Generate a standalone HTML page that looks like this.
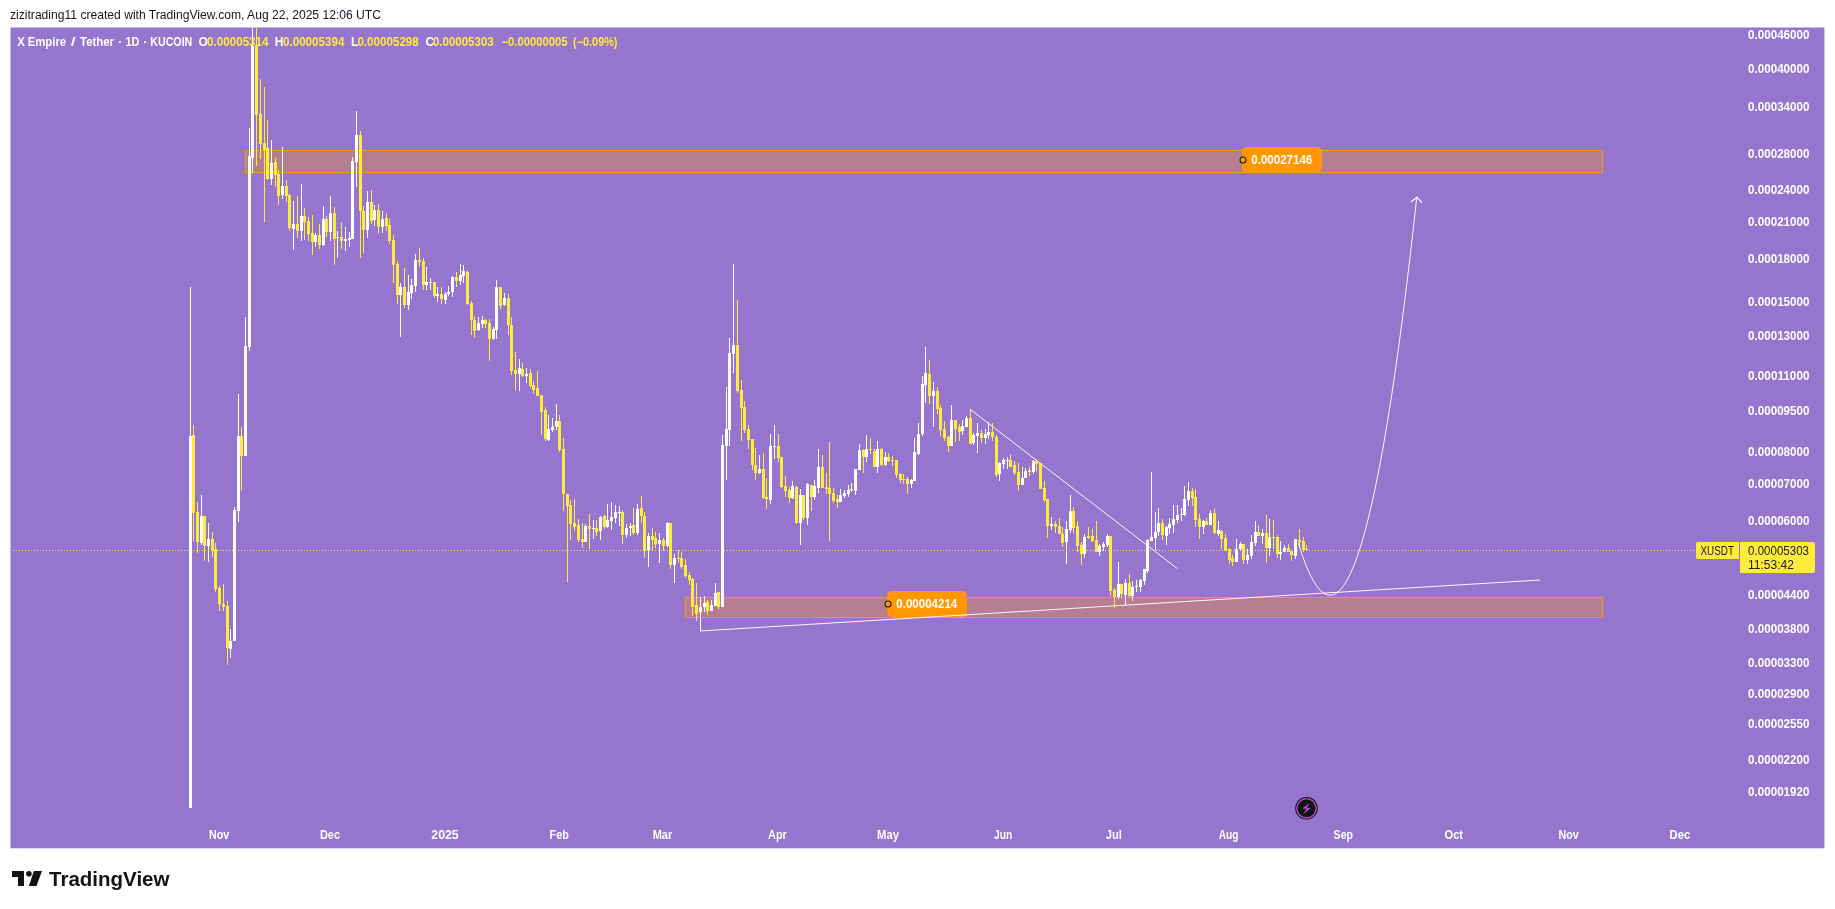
<!DOCTYPE html>
<html><head><meta charset="utf-8"><title>X Empire / Tether chart</title>
<style>html,body{margin:0;padding:0;background:#fff;}body{width:1835px;height:909px;overflow:hidden;font-family:"Liberation Sans",sans-serif;}svg{display:block;will-change:transform;}text{font-family:"Liberation Sans",sans-serif;}</style>
</head><body>
<svg width="1835" height="909" viewBox="0 0 1835 909">
<rect x="0" y="0" width="1835" height="909" fill="#ffffff"/>
<rect x="10.5" y="27.5" width="1813.9" height="820.8" fill="#9575cd"/>
<clipPath id="cp"><rect x="10.5" y="27.5" width="1813.9" height="820.8"/></clipPath>
<g clip-path="url(#cp)">
<rect x="245.5" y="150.5" width="1357" height="22" fill="rgba(255,152,0,0.30)" stroke="#ff9800" stroke-width="1" shape-rendering="crispEdges"/>
<rect x="685.5" y="597.5" width="917" height="20" fill="rgba(255,152,0,0.30)" stroke="#ff9800" stroke-width="1" shape-rendering="crispEdges"/>
<g stroke="#ffffff" stroke-width="1" fill="none" stroke-opacity="0.95">
<line x1="700" y1="631" x2="1540" y2="580"/>
<line x1="969.7" y1="409" x2="1177.5" y2="568.7"/>
</g>
<g shape-rendering="crispEdges">
<rect x="190" y="287" width="1" height="521" fill="#ffffff"/>
<rect x="189" y="436" width="3" height="372" fill="#ffffff"/>
<rect x="193" y="425" width="1" height="116" fill="#ffeb3b"/>
<rect x="192" y="435" width="3" height="78" fill="#ffeb3b"/>
<rect x="197" y="502" width="1" height="51" fill="#ffeb3b"/>
<rect x="196" y="512" width="3" height="30" fill="#ffeb3b"/>
<rect x="201" y="495" width="1" height="50" fill="#ffffff"/>
<rect x="200" y="516" width="3" height="27" fill="#ffffff"/>
<rect x="204" y="516" width="1" height="45" fill="#ffeb3b"/>
<rect x="203" y="516" width="3" height="30" fill="#ffeb3b"/>
<rect x="208" y="523" width="1" height="39" fill="#ffffff"/>
<rect x="207" y="539" width="3" height="7" fill="#ffffff"/>
<rect x="212" y="532" width="1" height="25" fill="#ffeb3b"/>
<rect x="211" y="539" width="3" height="12" fill="#ffeb3b"/>
<rect x="215" y="543" width="1" height="49" fill="#ffeb3b"/>
<rect x="214" y="549" width="3" height="40" fill="#ffeb3b"/>
<rect x="219" y="586" width="1" height="25" fill="#ffeb3b"/>
<rect x="218" y="588" width="3" height="16" fill="#ffeb3b"/>
<rect x="223" y="584" width="1" height="27" fill="#ffeb3b"/>
<rect x="222" y="604" width="3" height="3" fill="#ffeb3b"/>
<rect x="227" y="601" width="1" height="64" fill="#ffeb3b"/>
<rect x="226" y="606" width="3" height="42" fill="#ffeb3b"/>
<rect x="230" y="629" width="1" height="29" fill="#ffffff"/>
<rect x="229" y="641" width="3" height="8" fill="#ffffff"/>
<rect x="234" y="507" width="1" height="134" fill="#ffffff"/>
<rect x="233" y="510" width="3" height="131" fill="#ffffff"/>
<rect x="238" y="394" width="1" height="128" fill="#ffffff"/>
<rect x="237" y="436" width="3" height="75" fill="#ffffff"/>
<rect x="241" y="427" width="1" height="64" fill="#ffeb3b"/>
<rect x="240" y="436" width="3" height="20" fill="#ffeb3b"/>
<rect x="245" y="317" width="1" height="139" fill="#ffffff"/>
<rect x="244" y="346" width="3" height="110" fill="#ffffff"/>
<rect x="249" y="128" width="1" height="223" fill="#ffffff"/>
<rect x="248" y="156" width="3" height="191" fill="#ffffff"/>
<rect x="252" y="20" width="1" height="153" fill="#ffffff"/>
<rect x="251" y="46" width="3" height="112" fill="#ffffff"/>
<rect x="256" y="20" width="1" height="146" fill="#ffeb3b"/>
<rect x="255" y="45" width="3" height="70" fill="#ffeb3b"/>
<rect x="260" y="79" width="1" height="80" fill="#ffeb3b"/>
<rect x="259" y="114" width="3" height="30" fill="#ffeb3b"/>
<rect x="264" y="87" width="1" height="135" fill="#ffeb3b"/>
<rect x="263" y="143" width="3" height="7" fill="#ffeb3b"/>
<rect x="267" y="120" width="1" height="60" fill="#ffeb3b"/>
<rect x="266" y="148" width="3" height="31" fill="#ffeb3b"/>
<rect x="271" y="140" width="1" height="45" fill="#ffffff"/>
<rect x="270" y="163" width="3" height="16" fill="#ffffff"/>
<rect x="275" y="158" width="1" height="29" fill="#ffeb3b"/>
<rect x="274" y="162" width="3" height="13" fill="#ffeb3b"/>
<rect x="278" y="170" width="1" height="35" fill="#ffeb3b"/>
<rect x="277" y="174" width="3" height="22" fill="#ffeb3b"/>
<rect x="282" y="147" width="1" height="52" fill="#ffffff"/>
<rect x="281" y="186" width="3" height="9" fill="#ffffff"/>
<rect x="286" y="180" width="1" height="22" fill="#ffeb3b"/>
<rect x="285" y="186" width="3" height="10" fill="#ffeb3b"/>
<rect x="289" y="194" width="1" height="37" fill="#ffeb3b"/>
<rect x="288" y="195" width="3" height="33" fill="#ffeb3b"/>
<rect x="293" y="201" width="1" height="49" fill="#ffffff"/>
<rect x="292" y="224" width="3" height="5" fill="#ffffff"/>
<rect x="297" y="196" width="1" height="42" fill="#ffeb3b"/>
<rect x="296" y="224" width="3" height="7" fill="#ffeb3b"/>
<rect x="301" y="184" width="1" height="57" fill="#ffffff"/>
<rect x="300" y="216" width="3" height="15" fill="#ffffff"/>
<rect x="304" y="208" width="1" height="32" fill="#ffeb3b"/>
<rect x="303" y="216" width="3" height="6" fill="#ffeb3b"/>
<rect x="308" y="217" width="1" height="24" fill="#ffeb3b"/>
<rect x="307" y="221" width="3" height="13" fill="#ffeb3b"/>
<rect x="312" y="215" width="1" height="40" fill="#ffeb3b"/>
<rect x="311" y="233" width="3" height="9" fill="#ffeb3b"/>
<rect x="315" y="233" width="1" height="14" fill="#ffffff"/>
<rect x="314" y="235" width="3" height="7" fill="#ffffff"/>
<rect x="319" y="224" width="1" height="25" fill="#ffeb3b"/>
<rect x="318" y="235" width="3" height="10" fill="#ffeb3b"/>
<rect x="323" y="206" width="1" height="40" fill="#ffffff"/>
<rect x="322" y="219" width="3" height="26" fill="#ffffff"/>
<rect x="326" y="216" width="1" height="21" fill="#ffeb3b"/>
<rect x="325" y="219" width="3" height="13" fill="#ffeb3b"/>
<rect x="330" y="196" width="1" height="45" fill="#ffffff"/>
<rect x="329" y="213" width="3" height="19" fill="#ffffff"/>
<rect x="334" y="207" width="1" height="58" fill="#ffeb3b"/>
<rect x="333" y="213" width="3" height="26" fill="#ffeb3b"/>
<rect x="337" y="231" width="1" height="27" fill="#ffffff"/>
<rect x="336" y="237" width="3" height="1" fill="#ffffff"/>
<rect x="341" y="222" width="1" height="27" fill="#ffeb3b"/>
<rect x="340" y="237" width="3" height="4" fill="#ffeb3b"/>
<rect x="345" y="227" width="1" height="24" fill="#ffffff"/>
<rect x="344" y="239" width="3" height="2" fill="#ffffff"/>
<rect x="349" y="232" width="1" height="15" fill="#ffffff"/>
<rect x="348" y="238" width="3" height="2" fill="#ffffff"/>
<rect x="352" y="157" width="1" height="82" fill="#ffffff"/>
<rect x="351" y="161" width="3" height="78" fill="#ffffff"/>
<rect x="356" y="111" width="1" height="76" fill="#ffffff"/>
<rect x="355" y="135" width="3" height="27" fill="#ffffff"/>
<rect x="360" y="131" width="1" height="127" fill="#ffeb3b"/>
<rect x="359" y="135" width="3" height="76" fill="#ffeb3b"/>
<rect x="363" y="206" width="1" height="47" fill="#ffeb3b"/>
<rect x="362" y="211" width="3" height="19" fill="#ffeb3b"/>
<rect x="367" y="191" width="1" height="47" fill="#ffffff"/>
<rect x="366" y="202" width="3" height="28" fill="#ffffff"/>
<rect x="371" y="190" width="1" height="34" fill="#ffeb3b"/>
<rect x="370" y="202" width="3" height="19" fill="#ffeb3b"/>
<rect x="374" y="205" width="1" height="21" fill="#ffffff"/>
<rect x="373" y="210" width="3" height="10" fill="#ffffff"/>
<rect x="378" y="204" width="1" height="30" fill="#ffeb3b"/>
<rect x="377" y="210" width="3" height="17" fill="#ffeb3b"/>
<rect x="382" y="211" width="1" height="22" fill="#ffffff"/>
<rect x="381" y="219" width="3" height="8" fill="#ffffff"/>
<rect x="386" y="213" width="1" height="18" fill="#ffeb3b"/>
<rect x="385" y="218" width="3" height="8" fill="#ffeb3b"/>
<rect x="389" y="219" width="1" height="25" fill="#ffeb3b"/>
<rect x="388" y="225" width="3" height="16" fill="#ffeb3b"/>
<rect x="393" y="235" width="1" height="48" fill="#ffeb3b"/>
<rect x="392" y="240" width="3" height="25" fill="#ffeb3b"/>
<rect x="397" y="261" width="1" height="43" fill="#ffeb3b"/>
<rect x="396" y="264" width="3" height="31" fill="#ffeb3b"/>
<rect x="400" y="283" width="1" height="54" fill="#ffffff"/>
<rect x="399" y="287" width="3" height="8" fill="#ffffff"/>
<rect x="404" y="268" width="1" height="40" fill="#ffeb3b"/>
<rect x="403" y="287" width="3" height="18" fill="#ffeb3b"/>
<rect x="408" y="275" width="1" height="35" fill="#ffffff"/>
<rect x="407" y="292" width="3" height="13" fill="#ffffff"/>
<rect x="411" y="279" width="1" height="20" fill="#ffffff"/>
<rect x="410" y="285" width="3" height="8" fill="#ffffff"/>
<rect x="415" y="254" width="1" height="38" fill="#ffffff"/>
<rect x="414" y="260" width="3" height="26" fill="#ffffff"/>
<rect x="419" y="248" width="1" height="19" fill="#ffeb3b"/>
<rect x="418" y="260" width="3" height="2" fill="#ffeb3b"/>
<rect x="423" y="258" width="1" height="32" fill="#ffeb3b"/>
<rect x="422" y="261" width="3" height="24" fill="#ffeb3b"/>
<rect x="426" y="267" width="1" height="23" fill="#ffffff"/>
<rect x="425" y="282" width="3" height="3" fill="#ffffff"/>
<rect x="430" y="278" width="1" height="12" fill="#ffffff"/>
<rect x="429" y="282" width="3" height="1" fill="#ffffff"/>
<rect x="434" y="282" width="1" height="16" fill="#ffeb3b"/>
<rect x="433" y="282" width="3" height="14" fill="#ffeb3b"/>
<rect x="437" y="287" width="1" height="15" fill="#ffffff"/>
<rect x="436" y="294" width="3" height="2" fill="#ffffff"/>
<rect x="441" y="287" width="1" height="17" fill="#ffeb3b"/>
<rect x="440" y="294" width="3" height="5" fill="#ffeb3b"/>
<rect x="445" y="292" width="1" height="12" fill="#ffffff"/>
<rect x="444" y="294" width="3" height="6" fill="#ffffff"/>
<rect x="448" y="286" width="1" height="10" fill="#ffffff"/>
<rect x="447" y="292" width="3" height="2" fill="#ffffff"/>
<rect x="452" y="276" width="1" height="21" fill="#ffffff"/>
<rect x="451" y="277" width="3" height="15" fill="#ffffff"/>
<rect x="456" y="272" width="1" height="15" fill="#ffeb3b"/>
<rect x="455" y="277" width="3" height="4" fill="#ffeb3b"/>
<rect x="460" y="264" width="1" height="21" fill="#ffffff"/>
<rect x="459" y="275" width="3" height="6" fill="#ffffff"/>
<rect x="463" y="265" width="1" height="18" fill="#ffffff"/>
<rect x="462" y="271" width="3" height="5" fill="#ffffff"/>
<rect x="467" y="270" width="1" height="35" fill="#ffeb3b"/>
<rect x="466" y="272" width="3" height="32" fill="#ffeb3b"/>
<rect x="471" y="301" width="1" height="34" fill="#ffeb3b"/>
<rect x="470" y="303" width="3" height="17" fill="#ffeb3b"/>
<rect x="474" y="316" width="1" height="22" fill="#ffeb3b"/>
<rect x="473" y="320" width="3" height="11" fill="#ffeb3b"/>
<rect x="478" y="317" width="1" height="14" fill="#ffffff"/>
<rect x="477" y="323" width="3" height="7" fill="#ffffff"/>
<rect x="482" y="316" width="1" height="12" fill="#ffffff"/>
<rect x="481" y="320" width="3" height="4" fill="#ffffff"/>
<rect x="485" y="319" width="1" height="9" fill="#ffeb3b"/>
<rect x="484" y="320" width="3" height="4" fill="#ffeb3b"/>
<rect x="489" y="319" width="1" height="42" fill="#ffeb3b"/>
<rect x="488" y="323" width="3" height="16" fill="#ffeb3b"/>
<rect x="493" y="327" width="1" height="13" fill="#ffffff"/>
<rect x="492" y="329" width="3" height="10" fill="#ffffff"/>
<rect x="496" y="280" width="1" height="59" fill="#ffffff"/>
<rect x="495" y="287" width="3" height="43" fill="#ffffff"/>
<rect x="500" y="287" width="1" height="22" fill="#ffeb3b"/>
<rect x="499" y="287" width="3" height="19" fill="#ffeb3b"/>
<rect x="504" y="293" width="1" height="13" fill="#ffffff"/>
<rect x="503" y="298" width="3" height="7" fill="#ffffff"/>
<rect x="508" y="294" width="1" height="41" fill="#ffeb3b"/>
<rect x="507" y="298" width="3" height="27" fill="#ffeb3b"/>
<rect x="511" y="317" width="1" height="58" fill="#ffeb3b"/>
<rect x="510" y="325" width="3" height="46" fill="#ffeb3b"/>
<rect x="515" y="352" width="1" height="38" fill="#ffeb3b"/>
<rect x="514" y="370" width="3" height="4" fill="#ffeb3b"/>
<rect x="519" y="359" width="1" height="32" fill="#ffffff"/>
<rect x="518" y="368" width="3" height="6" fill="#ffffff"/>
<rect x="522" y="363" width="1" height="14" fill="#ffeb3b"/>
<rect x="521" y="369" width="3" height="7" fill="#ffeb3b"/>
<rect x="526" y="368" width="1" height="15" fill="#ffffff"/>
<rect x="525" y="374" width="3" height="2" fill="#ffffff"/>
<rect x="530" y="369" width="1" height="19" fill="#ffeb3b"/>
<rect x="529" y="373" width="3" height="13" fill="#ffeb3b"/>
<rect x="533" y="381" width="1" height="13" fill="#ffeb3b"/>
<rect x="532" y="385" width="3" height="5" fill="#ffeb3b"/>
<rect x="537" y="371" width="1" height="25" fill="#ffeb3b"/>
<rect x="536" y="388" width="3" height="8" fill="#ffeb3b"/>
<rect x="541" y="395" width="1" height="40" fill="#ffeb3b"/>
<rect x="540" y="395" width="3" height="17" fill="#ffeb3b"/>
<rect x="545" y="407" width="1" height="34" fill="#ffeb3b"/>
<rect x="544" y="410" width="3" height="29" fill="#ffeb3b"/>
<rect x="548" y="415" width="1" height="26" fill="#ffffff"/>
<rect x="547" y="429" width="3" height="11" fill="#ffffff"/>
<rect x="552" y="418" width="1" height="14" fill="#ffffff"/>
<rect x="551" y="427" width="3" height="3" fill="#ffffff"/>
<rect x="556" y="404" width="1" height="26" fill="#ffffff"/>
<rect x="555" y="421" width="3" height="6" fill="#ffffff"/>
<rect x="559" y="415" width="1" height="37" fill="#ffeb3b"/>
<rect x="558" y="421" width="3" height="29" fill="#ffeb3b"/>
<rect x="563" y="438" width="1" height="73" fill="#ffeb3b"/>
<rect x="562" y="449" width="3" height="45" fill="#ffeb3b"/>
<rect x="567" y="494" width="1" height="88" fill="#ffeb3b"/>
<rect x="566" y="494" width="3" height="12" fill="#ffeb3b"/>
<rect x="570" y="500" width="1" height="40" fill="#ffeb3b"/>
<rect x="569" y="505" width="3" height="19" fill="#ffeb3b"/>
<rect x="574" y="499" width="1" height="32" fill="#ffeb3b"/>
<rect x="573" y="523" width="3" height="4" fill="#ffeb3b"/>
<rect x="578" y="519" width="1" height="23" fill="#ffeb3b"/>
<rect x="577" y="525" width="3" height="15" fill="#ffeb3b"/>
<rect x="582" y="523" width="1" height="25" fill="#ffeb3b"/>
<rect x="581" y="539" width="3" height="3" fill="#ffeb3b"/>
<rect x="585" y="524" width="1" height="18" fill="#ffffff"/>
<rect x="584" y="526" width="3" height="16" fill="#ffffff"/>
<rect x="589" y="514" width="1" height="35" fill="#ffeb3b"/>
<rect x="588" y="526" width="3" height="3" fill="#ffeb3b"/>
<rect x="593" y="520" width="1" height="19" fill="#ffffff"/>
<rect x="592" y="528" width="3" height="1" fill="#ffffff"/>
<rect x="596" y="520" width="1" height="16" fill="#ffeb3b"/>
<rect x="595" y="528" width="3" height="4" fill="#ffeb3b"/>
<rect x="600" y="516" width="1" height="24" fill="#ffffff"/>
<rect x="599" y="517" width="3" height="14" fill="#ffffff"/>
<rect x="604" y="515" width="1" height="14" fill="#ffeb3b"/>
<rect x="603" y="516" width="3" height="11" fill="#ffeb3b"/>
<rect x="607" y="504" width="1" height="24" fill="#ffffff"/>
<rect x="606" y="520" width="3" height="7" fill="#ffffff"/>
<rect x="611" y="502" width="1" height="28" fill="#ffffff"/>
<rect x="610" y="517" width="3" height="4" fill="#ffffff"/>
<rect x="615" y="505" width="1" height="18" fill="#ffffff"/>
<rect x="614" y="512" width="3" height="6" fill="#ffffff"/>
<rect x="619" y="506" width="1" height="20" fill="#ffffff"/>
<rect x="618" y="512" width="3" height="1" fill="#ffffff"/>
<rect x="622" y="510" width="1" height="34" fill="#ffeb3b"/>
<rect x="621" y="512" width="3" height="23" fill="#ffeb3b"/>
<rect x="626" y="524" width="1" height="14" fill="#ffffff"/>
<rect x="625" y="528" width="3" height="7" fill="#ffffff"/>
<rect x="630" y="523" width="1" height="13" fill="#ffffff"/>
<rect x="629" y="526" width="3" height="2" fill="#ffffff"/>
<rect x="633" y="508" width="1" height="27" fill="#ffeb3b"/>
<rect x="632" y="525" width="3" height="8" fill="#ffeb3b"/>
<rect x="637" y="504" width="1" height="31" fill="#ffffff"/>
<rect x="636" y="509" width="3" height="24" fill="#ffffff"/>
<rect x="641" y="496" width="1" height="27" fill="#ffeb3b"/>
<rect x="640" y="508" width="3" height="8" fill="#ffeb3b"/>
<rect x="644" y="512" width="1" height="46" fill="#ffeb3b"/>
<rect x="643" y="516" width="3" height="35" fill="#ffeb3b"/>
<rect x="648" y="533" width="1" height="34" fill="#ffffff"/>
<rect x="647" y="536" width="3" height="14" fill="#ffffff"/>
<rect x="652" y="528" width="1" height="23" fill="#ffeb3b"/>
<rect x="651" y="536" width="3" height="4" fill="#ffeb3b"/>
<rect x="655" y="532" width="1" height="16" fill="#ffeb3b"/>
<rect x="654" y="538" width="3" height="6" fill="#ffeb3b"/>
<rect x="659" y="533" width="1" height="30" fill="#ffffff"/>
<rect x="658" y="540" width="3" height="4" fill="#ffffff"/>
<rect x="663" y="538" width="1" height="13" fill="#ffeb3b"/>
<rect x="662" y="540" width="3" height="6" fill="#ffeb3b"/>
<rect x="667" y="522" width="1" height="25" fill="#ffffff"/>
<rect x="666" y="523" width="3" height="23" fill="#ffffff"/>
<rect x="670" y="523" width="1" height="46" fill="#ffeb3b"/>
<rect x="669" y="523" width="3" height="42" fill="#ffeb3b"/>
<rect x="674" y="554" width="1" height="29" fill="#ffffff"/>
<rect x="673" y="558" width="3" height="7" fill="#ffffff"/>
<rect x="678" y="550" width="1" height="13" fill="#ffeb3b"/>
<rect x="677" y="558" width="3" height="1" fill="#ffeb3b"/>
<rect x="681" y="552" width="1" height="17" fill="#ffeb3b"/>
<rect x="680" y="558" width="3" height="9" fill="#ffeb3b"/>
<rect x="685" y="559" width="1" height="19" fill="#ffeb3b"/>
<rect x="684" y="565" width="3" height="11" fill="#ffeb3b"/>
<rect x="689" y="572" width="1" height="13" fill="#ffeb3b"/>
<rect x="688" y="575" width="3" height="5" fill="#ffeb3b"/>
<rect x="692" y="578" width="1" height="38" fill="#ffeb3b"/>
<rect x="691" y="579" width="3" height="28" fill="#ffeb3b"/>
<rect x="696" y="583" width="1" height="38" fill="#ffeb3b"/>
<rect x="695" y="605" width="3" height="9" fill="#ffeb3b"/>
<rect x="700" y="597" width="1" height="34" fill="#ffffff"/>
<rect x="699" y="607" width="3" height="5" fill="#ffffff"/>
<rect x="704" y="596" width="1" height="16" fill="#ffffff"/>
<rect x="703" y="603" width="3" height="4" fill="#ffffff"/>
<rect x="707" y="600" width="1" height="15" fill="#ffeb3b"/>
<rect x="706" y="602" width="3" height="9" fill="#ffeb3b"/>
<rect x="711" y="600" width="1" height="11" fill="#ffffff"/>
<rect x="710" y="605" width="3" height="6" fill="#ffffff"/>
<rect x="715" y="583" width="1" height="23" fill="#ffffff"/>
<rect x="714" y="593" width="3" height="13" fill="#ffffff"/>
<rect x="718" y="592" width="1" height="17" fill="#ffeb3b"/>
<rect x="717" y="592" width="3" height="15" fill="#ffeb3b"/>
<rect x="722" y="435" width="1" height="172" fill="#ffffff"/>
<rect x="721" y="445" width="3" height="162" fill="#ffffff"/>
<rect x="726" y="387" width="1" height="93" fill="#ffffff"/>
<rect x="725" y="429" width="3" height="17" fill="#ffffff"/>
<rect x="729" y="338" width="1" height="108" fill="#ffffff"/>
<rect x="728" y="353" width="3" height="77" fill="#ffffff"/>
<rect x="733" y="264" width="1" height="109" fill="#ffffff"/>
<rect x="732" y="345" width="3" height="9" fill="#ffffff"/>
<rect x="737" y="300" width="1" height="93" fill="#ffeb3b"/>
<rect x="736" y="345" width="3" height="46" fill="#ffeb3b"/>
<rect x="741" y="380" width="1" height="61" fill="#ffeb3b"/>
<rect x="740" y="390" width="3" height="18" fill="#ffeb3b"/>
<rect x="744" y="401" width="1" height="32" fill="#ffeb3b"/>
<rect x="743" y="407" width="3" height="23" fill="#ffeb3b"/>
<rect x="748" y="425" width="1" height="24" fill="#ffeb3b"/>
<rect x="747" y="429" width="3" height="11" fill="#ffeb3b"/>
<rect x="752" y="439" width="1" height="31" fill="#ffeb3b"/>
<rect x="751" y="439" width="3" height="26" fill="#ffeb3b"/>
<rect x="755" y="448" width="1" height="32" fill="#ffeb3b"/>
<rect x="754" y="465" width="3" height="8" fill="#ffeb3b"/>
<rect x="759" y="455" width="1" height="19" fill="#ffffff"/>
<rect x="758" y="469" width="3" height="4" fill="#ffffff"/>
<rect x="763" y="453" width="1" height="46" fill="#ffeb3b"/>
<rect x="762" y="469" width="3" height="29" fill="#ffeb3b"/>
<rect x="766" y="478" width="1" height="31" fill="#ffeb3b"/>
<rect x="765" y="497" width="3" height="2" fill="#ffeb3b"/>
<rect x="770" y="434" width="1" height="70" fill="#ffffff"/>
<rect x="769" y="446" width="3" height="54" fill="#ffffff"/>
<rect x="774" y="425" width="1" height="34" fill="#ffffff"/>
<rect x="773" y="446" width="3" height="1" fill="#ffffff"/>
<rect x="778" y="434" width="1" height="28" fill="#ffeb3b"/>
<rect x="777" y="446" width="3" height="12" fill="#ffeb3b"/>
<rect x="781" y="457" width="1" height="31" fill="#ffeb3b"/>
<rect x="780" y="457" width="3" height="30" fill="#ffeb3b"/>
<rect x="785" y="476" width="1" height="21" fill="#ffeb3b"/>
<rect x="784" y="486" width="3" height="5" fill="#ffeb3b"/>
<rect x="789" y="487" width="1" height="16" fill="#ffeb3b"/>
<rect x="788" y="490" width="3" height="8" fill="#ffeb3b"/>
<rect x="792" y="481" width="1" height="18" fill="#ffffff"/>
<rect x="791" y="486" width="3" height="12" fill="#ffffff"/>
<rect x="796" y="486" width="1" height="38" fill="#ffeb3b"/>
<rect x="795" y="487" width="3" height="36" fill="#ffeb3b"/>
<rect x="800" y="489" width="1" height="56" fill="#ffffff"/>
<rect x="799" y="495" width="3" height="28" fill="#ffffff"/>
<rect x="803" y="495" width="1" height="25" fill="#ffeb3b"/>
<rect x="802" y="495" width="3" height="23" fill="#ffeb3b"/>
<rect x="807" y="483" width="1" height="42" fill="#ffffff"/>
<rect x="806" y="484" width="3" height="34" fill="#ffffff"/>
<rect x="811" y="485" width="1" height="26" fill="#ffeb3b"/>
<rect x="810" y="485" width="3" height="12" fill="#ffeb3b"/>
<rect x="814" y="480" width="1" height="20" fill="#ffffff"/>
<rect x="813" y="486" width="3" height="11" fill="#ffffff"/>
<rect x="818" y="449" width="1" height="44" fill="#ffffff"/>
<rect x="817" y="467" width="3" height="21" fill="#ffffff"/>
<rect x="822" y="455" width="1" height="33" fill="#ffeb3b"/>
<rect x="821" y="467" width="3" height="21" fill="#ffeb3b"/>
<rect x="826" y="473" width="1" height="21" fill="#ffeb3b"/>
<rect x="825" y="487" width="3" height="2" fill="#ffeb3b"/>
<rect x="829" y="442" width="1" height="99" fill="#ffeb3b"/>
<rect x="828" y="488" width="3" height="6" fill="#ffeb3b"/>
<rect x="833" y="488" width="1" height="15" fill="#ffeb3b"/>
<rect x="832" y="493" width="3" height="8" fill="#ffeb3b"/>
<rect x="837" y="495" width="1" height="13" fill="#ffeb3b"/>
<rect x="836" y="499" width="3" height="3" fill="#ffeb3b"/>
<rect x="840" y="489" width="1" height="13" fill="#ffffff"/>
<rect x="839" y="495" width="3" height="7" fill="#ffffff"/>
<rect x="844" y="490" width="1" height="8" fill="#ffffff"/>
<rect x="843" y="493" width="3" height="3" fill="#ffffff"/>
<rect x="848" y="485" width="1" height="12" fill="#ffffff"/>
<rect x="847" y="490" width="3" height="4" fill="#ffffff"/>
<rect x="851" y="483" width="1" height="9" fill="#ffffff"/>
<rect x="850" y="489" width="3" height="1" fill="#ffffff"/>
<rect x="855" y="469" width="1" height="26" fill="#ffffff"/>
<rect x="854" y="469" width="3" height="22" fill="#ffffff"/>
<rect x="859" y="444" width="1" height="26" fill="#ffffff"/>
<rect x="858" y="450" width="3" height="20" fill="#ffffff"/>
<rect x="863" y="449" width="1" height="24" fill="#ffeb3b"/>
<rect x="862" y="450" width="3" height="7" fill="#ffeb3b"/>
<rect x="866" y="435" width="1" height="27" fill="#ffffff"/>
<rect x="865" y="449" width="3" height="8" fill="#ffffff"/>
<rect x="870" y="438" width="1" height="16" fill="#ffeb3b"/>
<rect x="869" y="449" width="3" height="1" fill="#ffeb3b"/>
<rect x="874" y="449" width="1" height="18" fill="#ffeb3b"/>
<rect x="873" y="451" width="3" height="16" fill="#ffeb3b"/>
<rect x="877" y="441" width="1" height="32" fill="#ffffff"/>
<rect x="876" y="449" width="3" height="18" fill="#ffffff"/>
<rect x="881" y="448" width="1" height="18" fill="#ffeb3b"/>
<rect x="880" y="449" width="3" height="16" fill="#ffeb3b"/>
<rect x="885" y="452" width="1" height="14" fill="#ffffff"/>
<rect x="884" y="457" width="3" height="8" fill="#ffffff"/>
<rect x="888" y="453" width="1" height="9" fill="#ffeb3b"/>
<rect x="887" y="457" width="3" height="4" fill="#ffeb3b"/>
<rect x="892" y="456" width="1" height="10" fill="#ffeb3b"/>
<rect x="891" y="460" width="3" height="1" fill="#ffeb3b"/>
<rect x="896" y="460" width="1" height="18" fill="#ffeb3b"/>
<rect x="895" y="460" width="3" height="15" fill="#ffeb3b"/>
<rect x="900" y="473" width="1" height="10" fill="#ffeb3b"/>
<rect x="899" y="474" width="3" height="6" fill="#ffeb3b"/>
<rect x="903" y="474" width="1" height="10" fill="#ffeb3b"/>
<rect x="902" y="479" width="3" height="1" fill="#ffeb3b"/>
<rect x="907" y="477" width="1" height="17" fill="#ffeb3b"/>
<rect x="906" y="479" width="3" height="5" fill="#ffeb3b"/>
<rect x="911" y="479" width="1" height="9" fill="#ffffff"/>
<rect x="910" y="480" width="3" height="4" fill="#ffffff"/>
<rect x="914" y="438" width="1" height="43" fill="#ffffff"/>
<rect x="913" y="452" width="3" height="29" fill="#ffffff"/>
<rect x="918" y="423" width="1" height="32" fill="#ffffff"/>
<rect x="917" y="434" width="3" height="20" fill="#ffffff"/>
<rect x="922" y="376" width="1" height="60" fill="#ffffff"/>
<rect x="921" y="384" width="3" height="50" fill="#ffffff"/>
<rect x="925" y="347" width="1" height="56" fill="#ffffff"/>
<rect x="924" y="373" width="3" height="12" fill="#ffffff"/>
<rect x="929" y="360" width="1" height="44" fill="#ffeb3b"/>
<rect x="928" y="374" width="3" height="22" fill="#ffeb3b"/>
<rect x="933" y="382" width="1" height="45" fill="#ffffff"/>
<rect x="932" y="391" width="3" height="5" fill="#ffffff"/>
<rect x="937" y="387" width="1" height="27" fill="#ffeb3b"/>
<rect x="936" y="391" width="3" height="18" fill="#ffeb3b"/>
<rect x="940" y="405" width="1" height="31" fill="#ffeb3b"/>
<rect x="939" y="408" width="3" height="22" fill="#ffeb3b"/>
<rect x="944" y="421" width="1" height="20" fill="#ffeb3b"/>
<rect x="943" y="429" width="3" height="9" fill="#ffeb3b"/>
<rect x="948" y="436" width="1" height="16" fill="#ffeb3b"/>
<rect x="947" y="437" width="3" height="9" fill="#ffeb3b"/>
<rect x="951" y="405" width="1" height="41" fill="#ffffff"/>
<rect x="950" y="420" width="3" height="26" fill="#ffffff"/>
<rect x="955" y="420" width="1" height="22" fill="#ffeb3b"/>
<rect x="954" y="420" width="3" height="9" fill="#ffeb3b"/>
<rect x="959" y="424" width="1" height="17" fill="#ffeb3b"/>
<rect x="958" y="427" width="3" height="5" fill="#ffeb3b"/>
<rect x="962" y="420" width="1" height="15" fill="#ffffff"/>
<rect x="961" y="426" width="3" height="5" fill="#ffffff"/>
<rect x="966" y="416" width="1" height="11" fill="#ffffff"/>
<rect x="965" y="418" width="3" height="9" fill="#ffffff"/>
<rect x="970" y="409" width="1" height="35" fill="#ffeb3b"/>
<rect x="969" y="418" width="3" height="26" fill="#ffeb3b"/>
<rect x="973" y="433" width="1" height="12" fill="#ffffff"/>
<rect x="972" y="435" width="3" height="8" fill="#ffffff"/>
<rect x="977" y="423" width="1" height="30" fill="#ffffff"/>
<rect x="976" y="433" width="3" height="3" fill="#ffffff"/>
<rect x="981" y="430" width="1" height="13" fill="#ffeb3b"/>
<rect x="980" y="433" width="3" height="5" fill="#ffeb3b"/>
<rect x="985" y="429" width="1" height="15" fill="#ffffff"/>
<rect x="984" y="434" width="3" height="4" fill="#ffffff"/>
<rect x="988" y="422" width="1" height="17" fill="#ffffff"/>
<rect x="987" y="432" width="3" height="3" fill="#ffffff"/>
<rect x="992" y="423" width="1" height="18" fill="#ffeb3b"/>
<rect x="991" y="432" width="3" height="5" fill="#ffeb3b"/>
<rect x="996" y="435" width="1" height="42" fill="#ffeb3b"/>
<rect x="995" y="437" width="3" height="38" fill="#ffeb3b"/>
<rect x="999" y="462" width="1" height="19" fill="#ffffff"/>
<rect x="998" y="463" width="3" height="11" fill="#ffffff"/>
<rect x="1003" y="458" width="1" height="11" fill="#ffffff"/>
<rect x="1002" y="460" width="3" height="4" fill="#ffffff"/>
<rect x="1007" y="457" width="1" height="12" fill="#ffffff"/>
<rect x="1006" y="460" width="3" height="1" fill="#ffffff"/>
<rect x="1010" y="454" width="1" height="13" fill="#ffeb3b"/>
<rect x="1009" y="460" width="3" height="7" fill="#ffeb3b"/>
<rect x="1014" y="461" width="1" height="14" fill="#ffeb3b"/>
<rect x="1013" y="465" width="3" height="8" fill="#ffeb3b"/>
<rect x="1018" y="463" width="1" height="28" fill="#ffeb3b"/>
<rect x="1017" y="472" width="3" height="13" fill="#ffeb3b"/>
<rect x="1022" y="467" width="1" height="18" fill="#ffffff"/>
<rect x="1021" y="478" width="3" height="7" fill="#ffffff"/>
<rect x="1025" y="468" width="1" height="10" fill="#ffffff"/>
<rect x="1024" y="471" width="3" height="7" fill="#ffffff"/>
<rect x="1029" y="467" width="1" height="9" fill="#ffeb3b"/>
<rect x="1028" y="470" width="3" height="2" fill="#ffeb3b"/>
<rect x="1033" y="460" width="1" height="14" fill="#ffffff"/>
<rect x="1032" y="461" width="3" height="11" fill="#ffffff"/>
<rect x="1036" y="459" width="1" height="12" fill="#ffeb3b"/>
<rect x="1035" y="461" width="3" height="3" fill="#ffeb3b"/>
<rect x="1040" y="463" width="1" height="26" fill="#ffeb3b"/>
<rect x="1039" y="463" width="3" height="26" fill="#ffeb3b"/>
<rect x="1044" y="481" width="1" height="21" fill="#ffeb3b"/>
<rect x="1043" y="488" width="3" height="12" fill="#ffeb3b"/>
<rect x="1047" y="499" width="1" height="39" fill="#ffeb3b"/>
<rect x="1046" y="499" width="3" height="27" fill="#ffeb3b"/>
<rect x="1051" y="517" width="1" height="13" fill="#ffffff"/>
<rect x="1050" y="524" width="3" height="2" fill="#ffffff"/>
<rect x="1055" y="521" width="1" height="12" fill="#ffeb3b"/>
<rect x="1054" y="524" width="3" height="3" fill="#ffeb3b"/>
<rect x="1059" y="518" width="1" height="16" fill="#ffeb3b"/>
<rect x="1058" y="526" width="3" height="8" fill="#ffeb3b"/>
<rect x="1062" y="527" width="1" height="20" fill="#ffeb3b"/>
<rect x="1061" y="534" width="3" height="9" fill="#ffeb3b"/>
<rect x="1066" y="521" width="1" height="43" fill="#ffffff"/>
<rect x="1065" y="529" width="3" height="13" fill="#ffffff"/>
<rect x="1070" y="495" width="1" height="38" fill="#ffffff"/>
<rect x="1069" y="511" width="3" height="19" fill="#ffffff"/>
<rect x="1073" y="507" width="1" height="26" fill="#ffeb3b"/>
<rect x="1072" y="511" width="3" height="17" fill="#ffeb3b"/>
<rect x="1077" y="521" width="1" height="31" fill="#ffeb3b"/>
<rect x="1076" y="526" width="3" height="20" fill="#ffeb3b"/>
<rect x="1081" y="542" width="1" height="23" fill="#ffeb3b"/>
<rect x="1080" y="545" width="3" height="9" fill="#ffeb3b"/>
<rect x="1084" y="534" width="1" height="24" fill="#ffffff"/>
<rect x="1083" y="537" width="3" height="17" fill="#ffffff"/>
<rect x="1088" y="527" width="1" height="12" fill="#ffeb3b"/>
<rect x="1087" y="536" width="3" height="2" fill="#ffeb3b"/>
<rect x="1092" y="529" width="1" height="13" fill="#ffeb3b"/>
<rect x="1091" y="536" width="3" height="5" fill="#ffeb3b"/>
<rect x="1096" y="521" width="1" height="31" fill="#ffeb3b"/>
<rect x="1095" y="540" width="3" height="12" fill="#ffeb3b"/>
<rect x="1099" y="544" width="1" height="12" fill="#ffffff"/>
<rect x="1098" y="546" width="3" height="6" fill="#ffffff"/>
<rect x="1103" y="542" width="1" height="9" fill="#ffffff"/>
<rect x="1102" y="544" width="3" height="3" fill="#ffffff"/>
<rect x="1107" y="534" width="1" height="13" fill="#ffffff"/>
<rect x="1106" y="536" width="3" height="9" fill="#ffffff"/>
<rect x="1110" y="536" width="1" height="60" fill="#ffeb3b"/>
<rect x="1109" y="536" width="3" height="55" fill="#ffeb3b"/>
<rect x="1114" y="588" width="1" height="20" fill="#ffeb3b"/>
<rect x="1113" y="590" width="3" height="7" fill="#ffeb3b"/>
<rect x="1118" y="562" width="1" height="37" fill="#ffffff"/>
<rect x="1117" y="584" width="3" height="13" fill="#ffffff"/>
<rect x="1121" y="584" width="1" height="14" fill="#ffeb3b"/>
<rect x="1120" y="584" width="3" height="10" fill="#ffeb3b"/>
<rect x="1125" y="579" width="1" height="26" fill="#ffffff"/>
<rect x="1124" y="583" width="3" height="12" fill="#ffffff"/>
<rect x="1129" y="574" width="1" height="23" fill="#ffeb3b"/>
<rect x="1128" y="583" width="3" height="13" fill="#ffeb3b"/>
<rect x="1132" y="581" width="1" height="20" fill="#ffffff"/>
<rect x="1131" y="587" width="3" height="9" fill="#ffffff"/>
<rect x="1136" y="580" width="1" height="12" fill="#ffffff"/>
<rect x="1135" y="586" width="3" height="1" fill="#ffffff"/>
<rect x="1140" y="579" width="1" height="13" fill="#ffffff"/>
<rect x="1139" y="580" width="3" height="7" fill="#ffffff"/>
<rect x="1144" y="569" width="1" height="16" fill="#ffffff"/>
<rect x="1143" y="569" width="3" height="12" fill="#ffffff"/>
<rect x="1147" y="539" width="1" height="34" fill="#ffffff"/>
<rect x="1146" y="540" width="3" height="31" fill="#ffffff"/>
<rect x="1151" y="472" width="1" height="69" fill="#ffffff"/>
<rect x="1150" y="537" width="3" height="4" fill="#ffffff"/>
<rect x="1155" y="512" width="1" height="38" fill="#ffffff"/>
<rect x="1154" y="532" width="3" height="6" fill="#ffffff"/>
<rect x="1158" y="508" width="1" height="28" fill="#ffffff"/>
<rect x="1157" y="523" width="3" height="9" fill="#ffffff"/>
<rect x="1162" y="519" width="1" height="21" fill="#ffeb3b"/>
<rect x="1161" y="523" width="3" height="12" fill="#ffeb3b"/>
<rect x="1166" y="526" width="1" height="19" fill="#ffffff"/>
<rect x="1165" y="527" width="3" height="9" fill="#ffffff"/>
<rect x="1169" y="518" width="1" height="16" fill="#ffffff"/>
<rect x="1168" y="524" width="3" height="4" fill="#ffffff"/>
<rect x="1173" y="505" width="1" height="28" fill="#ffffff"/>
<rect x="1172" y="519" width="3" height="6" fill="#ffffff"/>
<rect x="1177" y="505" width="1" height="18" fill="#ffffff"/>
<rect x="1176" y="515" width="3" height="5" fill="#ffffff"/>
<rect x="1181" y="508" width="1" height="13" fill="#ffffff"/>
<rect x="1180" y="514" width="3" height="1" fill="#ffffff"/>
<rect x="1184" y="486" width="1" height="30" fill="#ffffff"/>
<rect x="1183" y="499" width="3" height="16" fill="#ffffff"/>
<rect x="1188" y="482" width="1" height="24" fill="#ffffff"/>
<rect x="1187" y="491" width="3" height="9" fill="#ffffff"/>
<rect x="1192" y="488" width="1" height="18" fill="#ffeb3b"/>
<rect x="1191" y="491" width="3" height="7" fill="#ffeb3b"/>
<rect x="1195" y="489" width="1" height="38" fill="#ffeb3b"/>
<rect x="1194" y="497" width="3" height="23" fill="#ffeb3b"/>
<rect x="1199" y="514" width="1" height="25" fill="#ffeb3b"/>
<rect x="1198" y="519" width="3" height="8" fill="#ffeb3b"/>
<rect x="1203" y="520" width="1" height="14" fill="#ffffff"/>
<rect x="1202" y="521" width="3" height="6" fill="#ffffff"/>
<rect x="1206" y="518" width="1" height="7" fill="#ffeb3b"/>
<rect x="1205" y="521" width="3" height="4" fill="#ffeb3b"/>
<rect x="1210" y="510" width="1" height="15" fill="#ffffff"/>
<rect x="1209" y="513" width="3" height="12" fill="#ffffff"/>
<rect x="1214" y="508" width="1" height="26" fill="#ffeb3b"/>
<rect x="1213" y="513" width="3" height="20" fill="#ffeb3b"/>
<rect x="1218" y="521" width="1" height="15" fill="#ffffff"/>
<rect x="1217" y="530" width="3" height="4" fill="#ffffff"/>
<rect x="1221" y="530" width="1" height="19" fill="#ffeb3b"/>
<rect x="1220" y="531" width="3" height="8" fill="#ffeb3b"/>
<rect x="1225" y="534" width="1" height="17" fill="#ffeb3b"/>
<rect x="1224" y="538" width="3" height="13" fill="#ffeb3b"/>
<rect x="1229" y="548" width="1" height="16" fill="#ffeb3b"/>
<rect x="1228" y="549" width="3" height="11" fill="#ffeb3b"/>
<rect x="1232" y="555" width="1" height="11" fill="#ffeb3b"/>
<rect x="1231" y="558" width="3" height="4" fill="#ffeb3b"/>
<rect x="1236" y="539" width="1" height="23" fill="#ffffff"/>
<rect x="1235" y="549" width="3" height="13" fill="#ffffff"/>
<rect x="1240" y="542" width="1" height="8" fill="#ffffff"/>
<rect x="1239" y="544" width="3" height="5" fill="#ffffff"/>
<rect x="1243" y="544" width="1" height="20" fill="#ffeb3b"/>
<rect x="1242" y="544" width="3" height="16" fill="#ffeb3b"/>
<rect x="1247" y="549" width="1" height="15" fill="#ffffff"/>
<rect x="1246" y="555" width="3" height="5" fill="#ffffff"/>
<rect x="1251" y="535" width="1" height="24" fill="#ffffff"/>
<rect x="1250" y="542" width="3" height="14" fill="#ffffff"/>
<rect x="1255" y="521" width="1" height="25" fill="#ffffff"/>
<rect x="1254" y="532" width="3" height="11" fill="#ffffff"/>
<rect x="1258" y="525" width="1" height="11" fill="#ffeb3b"/>
<rect x="1257" y="532" width="3" height="4" fill="#ffeb3b"/>
<rect x="1262" y="529" width="1" height="15" fill="#ffffff"/>
<rect x="1261" y="533" width="3" height="3" fill="#ffffff"/>
<rect x="1266" y="515" width="1" height="48" fill="#ffeb3b"/>
<rect x="1265" y="533" width="3" height="15" fill="#ffeb3b"/>
<rect x="1269" y="519" width="1" height="37" fill="#ffffff"/>
<rect x="1268" y="537" width="3" height="11" fill="#ffffff"/>
<rect x="1273" y="520" width="1" height="29" fill="#ffeb3b"/>
<rect x="1272" y="537" width="3" height="1" fill="#ffeb3b"/>
<rect x="1277" y="535" width="1" height="23" fill="#ffeb3b"/>
<rect x="1276" y="537" width="3" height="17" fill="#ffeb3b"/>
<rect x="1280" y="541" width="1" height="19" fill="#ffffff"/>
<rect x="1279" y="552" width="3" height="2" fill="#ffffff"/>
<rect x="1284" y="545" width="1" height="7" fill="#ffffff"/>
<rect x="1283" y="548" width="3" height="4" fill="#ffffff"/>
<rect x="1288" y="544" width="1" height="8" fill="#ffeb3b"/>
<rect x="1287" y="548" width="3" height="4" fill="#ffeb3b"/>
<rect x="1291" y="550" width="1" height="11" fill="#ffeb3b"/>
<rect x="1290" y="551" width="3" height="4" fill="#ffeb3b"/>
<rect x="1295" y="539" width="1" height="20" fill="#ffffff"/>
<rect x="1294" y="539" width="3" height="17" fill="#ffffff"/>
<rect x="1299" y="529" width="1" height="18" fill="#ffeb3b"/>
<rect x="1298" y="540" width="3" height="2" fill="#ffeb3b"/>
<rect x="1303" y="537" width="1" height="15" fill="#ffeb3b"/>
<rect x="1302" y="541" width="3" height="9" fill="#ffeb3b"/>
<rect x="1306" y="545" width="1" height="6" fill="#ffeb3b"/>
<rect x="1305" y="549" width="3" height="1" fill="#ffeb3b"/>
</g>
<path d="M1298.3 543 Q1358.15 739.7 1416.8 197" stroke="#ffffff" stroke-width="1" fill="none" stroke-opacity="0.95"/>
<path d="M1411.2 201.7 L1417 197.2 L1421.8 202.6" stroke="#ffffff" stroke-width="1.1" fill="none" stroke-linecap="round" stroke-linejoin="round"/>
<line x1="10" y1="550.5" x2="1697" y2="550.5" stroke="#ffeb3b" stroke-width="1" stroke-dasharray="1 2" shape-rendering="crispEdges"/>
</g>
<rect x="1242" y="147" width="80" height="26" rx="5" ry="5" fill="#ff9800"/>
<circle cx="1243" cy="160" r="3" fill="#ff9800" stroke="#1c1c1c" stroke-width="1.1"/>
<text x="1251.3" y="164.2" font-size="12" font-weight="bold" fill="#ffffff" textLength="61" lengthAdjust="spacingAndGlyphs">0.00027146</text>
<rect x="887" y="591" width="80" height="26" rx="5" ry="5" fill="#ff9800"/>
<circle cx="888" cy="604" r="3" fill="#ff9800" stroke="#1c1c1c" stroke-width="1.1"/>
<text x="896.3" y="608.2" font-size="12" font-weight="bold" fill="#ffffff" textLength="61" lengthAdjust="spacingAndGlyphs">0.00004214</text>
<clipPath id="cl2"><rect x="887" y="591" width="80" height="26"/></clipPath>
<line x1="700" y1="631" x2="1540" y2="580" stroke="#ffffff" stroke-width="1" stroke-opacity="0.95" clip-path="url(#cl2)"/>
<text x="1748" y="39.2" font-size="12" font-weight="bold" fill="#ffffff" textLength="61.5" lengthAdjust="spacingAndGlyphs">0.00046000</text>
<text x="1748" y="73.2" font-size="12" font-weight="bold" fill="#ffffff" textLength="61.5" lengthAdjust="spacingAndGlyphs">0.00040000</text>
<text x="1748" y="111.2" font-size="12" font-weight="bold" fill="#ffffff" textLength="61.5" lengthAdjust="spacingAndGlyphs">0.00034000</text>
<text x="1748" y="158.2" font-size="12" font-weight="bold" fill="#ffffff" textLength="61.5" lengthAdjust="spacingAndGlyphs">0.00028000</text>
<text x="1748" y="194.2" font-size="12" font-weight="bold" fill="#ffffff" textLength="61.5" lengthAdjust="spacingAndGlyphs">0.00024000</text>
<text x="1748" y="226.2" font-size="12" font-weight="bold" fill="#ffffff" textLength="61.5" lengthAdjust="spacingAndGlyphs">0.00021000</text>
<text x="1748" y="263.2" font-size="12" font-weight="bold" fill="#ffffff" textLength="61.5" lengthAdjust="spacingAndGlyphs">0.00018000</text>
<text x="1748" y="306.2" font-size="12" font-weight="bold" fill="#ffffff" textLength="61.5" lengthAdjust="spacingAndGlyphs">0.00015000</text>
<text x="1748" y="340.2" font-size="12" font-weight="bold" fill="#ffffff" textLength="61.5" lengthAdjust="spacingAndGlyphs">0.00013000</text>
<text x="1748" y="380.2" font-size="12" font-weight="bold" fill="#ffffff" textLength="61.5" lengthAdjust="spacingAndGlyphs">0.00011000</text>
<text x="1748" y="415.2" font-size="12" font-weight="bold" fill="#ffffff" textLength="61.5" lengthAdjust="spacingAndGlyphs">0.00009500</text>
<text x="1748" y="456.2" font-size="12" font-weight="bold" fill="#ffffff" textLength="61.5" lengthAdjust="spacingAndGlyphs">0.00008000</text>
<text x="1748" y="488.2" font-size="12" font-weight="bold" fill="#ffffff" textLength="61.5" lengthAdjust="spacingAndGlyphs">0.00007000</text>
<text x="1748" y="525.2" font-size="12" font-weight="bold" fill="#ffffff" textLength="61.5" lengthAdjust="spacingAndGlyphs">0.00006000</text>
<text x="1748" y="599.2" font-size="12" font-weight="bold" fill="#ffffff" textLength="61.5" lengthAdjust="spacingAndGlyphs">0.00004400</text>
<text x="1748" y="633.2" font-size="12" font-weight="bold" fill="#ffffff" textLength="61.5" lengthAdjust="spacingAndGlyphs">0.00003800</text>
<text x="1748" y="667.2" font-size="12" font-weight="bold" fill="#ffffff" textLength="61.5" lengthAdjust="spacingAndGlyphs">0.00003300</text>
<text x="1748" y="698.2" font-size="12" font-weight="bold" fill="#ffffff" textLength="61.5" lengthAdjust="spacingAndGlyphs">0.00002900</text>
<text x="1748" y="728.2" font-size="12" font-weight="bold" fill="#ffffff" textLength="61.5" lengthAdjust="spacingAndGlyphs">0.00002550</text>
<text x="1748" y="764.2" font-size="12" font-weight="bold" fill="#ffffff" textLength="61.5" lengthAdjust="spacingAndGlyphs">0.00002200</text>
<text x="1748" y="796.2" font-size="12" font-weight="bold" fill="#ffffff" textLength="61.5" lengthAdjust="spacingAndGlyphs">0.00001920</text>
<path d="M1698 542 H1739 V559 H1698 Q1696 559 1696 557 V544 Q1696 542 1698 542 Z" fill="#ffeb3b"/>
<path d="M1740 542 H1813 Q1815 542 1815 544 V571 Q1815 573 1813 573 H1740 Z" fill="#ffeb3b"/>
<text x="1700.5" y="555" font-size="12" fill="#1e1a10" textLength="33.5" lengthAdjust="spacingAndGlyphs">XUSDT</text>
<text x="1748" y="555" font-size="12" fill="#1e1a10" textLength="61" lengthAdjust="spacingAndGlyphs">0.00005303</text>
<text x="1748" y="569" font-size="12" fill="#1e1a10" textLength="46" lengthAdjust="spacingAndGlyphs">11:53:42</text>
<text x="209" y="838.8" font-size="12" font-weight="bold" fill="#ffffff" textLength="20.2" lengthAdjust="spacingAndGlyphs">Nov</text>
<text x="319.95" y="838.8" font-size="12" font-weight="bold" fill="#ffffff" textLength="20.1" lengthAdjust="spacingAndGlyphs">Dec</text>
<text x="431.3" y="838.8" font-size="12" font-weight="bold" fill="#ffffff" textLength="27.4" lengthAdjust="spacingAndGlyphs">2025</text>
<text x="549.6" y="838.8" font-size="12" font-weight="bold" fill="#ffffff" textLength="19.4" lengthAdjust="spacingAndGlyphs">Feb</text>
<text x="652.65" y="838.8" font-size="12" font-weight="bold" fill="#ffffff" textLength="19.7" lengthAdjust="spacingAndGlyphs">Mar</text>
<text x="768" y="838.8" font-size="12" font-weight="bold" fill="#ffffff" textLength="18.8" lengthAdjust="spacingAndGlyphs">Apr</text>
<text x="877" y="838.8" font-size="12" font-weight="bold" fill="#ffffff" textLength="22" lengthAdjust="spacingAndGlyphs">May</text>
<text x="994.1" y="838.8" font-size="12" font-weight="bold" fill="#ffffff" textLength="18.2" lengthAdjust="spacingAndGlyphs">Jun</text>
<text x="1105.85" y="838.8" font-size="12" font-weight="bold" fill="#ffffff" textLength="16.1" lengthAdjust="spacingAndGlyphs">Jul</text>
<text x="1218.7" y="838.8" font-size="12" font-weight="bold" fill="#ffffff" textLength="19.8" lengthAdjust="spacingAndGlyphs">Aug</text>
<text x="1333.6" y="838.8" font-size="12" font-weight="bold" fill="#ffffff" textLength="19.4" lengthAdjust="spacingAndGlyphs">Sep</text>
<text x="1444.55" y="838.8" font-size="12" font-weight="bold" fill="#ffffff" textLength="18.5" lengthAdjust="spacingAndGlyphs">Oct</text>
<text x="1558.6" y="838.8" font-size="12" font-weight="bold" fill="#ffffff" textLength="20.2" lengthAdjust="spacingAndGlyphs">Nov</text>
<text x="1669.6" y="838.8" font-size="12" font-weight="bold" fill="#ffffff" textLength="20.6" lengthAdjust="spacingAndGlyphs">Dec</text>
<text x="17.3" y="45.8" font-size="12" font-weight="bold" fill="#ffffff" textLength="7.6" lengthAdjust="spacingAndGlyphs">X</text>
<text x="27.7" y="45.8" font-size="12" font-weight="bold" fill="#ffffff" textLength="38.5" lengthAdjust="spacingAndGlyphs">Empire</text>
<text x="70.7" y="45.8" font-size="12" font-weight="bold" fill="#ffffff" textLength="4.8" lengthAdjust="spacingAndGlyphs">/</text>
<text x="80.1" y="45.8" font-size="12" font-weight="bold" fill="#ffffff" textLength="33.8" lengthAdjust="spacingAndGlyphs">Tether</text>
<text x="120.2" y="45.8" font-size="12" font-weight="bold" fill="#ffffff" text-anchor="middle">·</text>
<text x="125.5" y="45.8" font-size="12" font-weight="bold" fill="#ffffff" textLength="13.8" lengthAdjust="spacingAndGlyphs">1D</text>
<text x="145.2" y="45.8" font-size="12" font-weight="bold" fill="#ffffff" text-anchor="middle">·</text>
<text x="150.3" y="45.8" font-size="12" font-weight="bold" fill="#ffffff" textLength="42" lengthAdjust="spacingAndGlyphs">KUCOIN</text>
<text x="198.6" y="45.8" font-size="12" font-weight="bold" fill="#ffffff">O</text>
<text x="207.1" y="45.8" font-size="12" font-weight="bold" fill="#ffeb3b" textLength="61.4" lengthAdjust="spacingAndGlyphs">0.00005314</text>
<text x="274.8" y="45.8" font-size="12" font-weight="bold" fill="#ffffff">H</text>
<text x="283" y="45.8" font-size="12" font-weight="bold" fill="#ffeb3b" textLength="61.4" lengthAdjust="spacingAndGlyphs">0.00005394</text>
<text x="351.1" y="45.8" font-size="12" font-weight="bold" fill="#ffffff">L</text>
<text x="357.4" y="45.8" font-size="12" font-weight="bold" fill="#ffeb3b" textLength="61.4" lengthAdjust="spacingAndGlyphs">0.00005298</text>
<text x="425.5" y="45.8" font-size="12" font-weight="bold" fill="#ffffff">C</text>
<text x="432.9" y="45.8" font-size="12" font-weight="bold" fill="#ffeb3b" textLength="60.8" lengthAdjust="spacingAndGlyphs">0.00005303</text>
<text x="501.5" y="45.8" font-size="12" font-weight="bold" fill="#ffeb3b" textLength="66" lengthAdjust="spacingAndGlyphs">−0.00000005</text>
<text x="573" y="45.8" font-size="12" font-weight="bold" fill="#ffeb3b" textLength="44.5" lengthAdjust="spacingAndGlyphs">(−0.09%)</text>
<circle cx="1306.5" cy="808.3" r="11.3" fill="#131313"/>
<circle cx="1306.5" cy="808.3" r="9.7" fill="none" stroke="#b650d2" stroke-width="1.4"/>
<path d="M1309.8 803 l-7.6 5.5 l4.4 0.3 l-3.4 5.1 l7.6 -5.6 l-4.3 -0.3 z" fill="#b650d2"/>
<text x="10" y="18.7" font-size="12" fill="#131722" textLength="371" lengthAdjust="spacingAndGlyphs">zizitrading11 created with TradingView.com, Aug 22, 2025 12:06 UTC</text>
<g fill="#131313">
<path d="M12 871 H24 V886 H18 V877 H12 Z"/>
<circle cx="28.9" cy="873.7" r="2.8"/>
<path d="M33.8 871 H42 L36.5 886 H28.9 Z"/>
<text x="49" y="886" font-size="20.6" font-weight="bold" textLength="120.5" lengthAdjust="spacingAndGlyphs">TradingView</text>
</g>
</svg>
</body></html>
